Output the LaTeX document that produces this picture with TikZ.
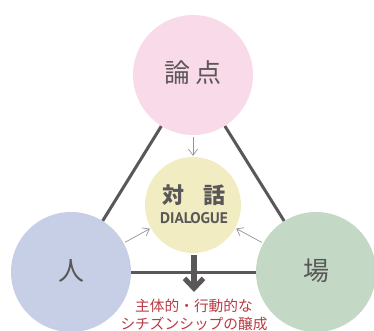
\documentclass[tikz,border=0pt]{standalone}
\usepackage{fontspec}
\setmainfont{Noto Sans CJK JP}
\newfontfamily\latinbold{PT Sans}[BoldFont={PT Sans Bold}]
\usetikzlibrary{arrows.meta}
\definecolor{pinkc}{HTML}{F9DAE8}
\definecolor{bluec}{HTML}{C6CFE6}
\definecolor{greenc}{HTML}{C3D9C5}
\definecolor{yellowc}{HTML}{F2ECC3}
\definecolor{inkc}{HTML}{595757}
\definecolor{redc}{HTML}{B83A44}
\tikzset{
  bubble/.style={circle,inner sep=0pt,text=inkc,align=center},
  bigbubble/.style={bubble,minimum size=120pt},
  biglabel/.style={text=inkc,font=\fontsize{26}{30}\selectfont,inner sep=0pt},
  thickline/.style={draw=inkc,line width=3pt},
  thinarrow/.style={draw=gray!85,line width=0.7pt,-{Straight Barb[length=6pt,width=9pt]},shorten <=1.5pt,shorten >=1pt},
  bigarrow/.style={draw=inkc,line width=5.5pt,-{Straight Barb[length=10pt,width=19pt,line width=5pt]}},
  caption/.style={text=redc,font=\fontsize{14.7}{17}\selectfont,align=center,inner sep=0pt}
}
\begin{document}
\begin{tikzpicture}[x=1pt,y=-1pt]
\useasboundingbox (0,0) rectangle (374,331);
\node[bigbubble,fill=pinkc] (ron) at (193,75) {};
\node[bigbubble,fill=bluec] (hito) at (71,272) {};
\node[bigbubble,fill=greenc] (ba) at (316,272) {};
\node[bubble,fill=yellowc,minimum size=96pt] (taiwa) at (193,205) {};
\draw[thickline] (ron) -- (hito);
\draw[thickline] (ron) -- (ba);
\draw[thickline] (hito) -- (ba);
\draw[thinarrow] (ron) -- (taiwa);
\draw[thinarrow] (hito) -- (taiwa);
\draw[thinarrow] (ba) -- (taiwa);
\coordinate (arrowstart) at (194,255);
\coordinate (arrowend) at (194,292);
\draw[bigarrow] (arrowstart) -- (arrowend);
\node[biglabel] (ronlabel) at (193,73) {論\,点};
\node[biglabel] (hitolabel) at (71,271) {人};
\node[biglabel] (balabel) at (316,271) {場};
\node[text=inkc,font=\fontsize{22}{26}\selectfont\bfseries,inner sep=0pt] (taiwalabel) at (194,195) {対\hspace{0.9em}話};
\node[text=inkc,font=\latinbold\fontsize{15.4}{17}\selectfont\bfseries,inner sep=0pt] (dialogue) at (194,218) {DIALOGUE};
\node[caption] (cap1) at (194,306) {主体的・行動的な};
\node[caption] (cap2) at (194,324) {シチズンシップの醸成};
\end{tikzpicture}
\end{document}
